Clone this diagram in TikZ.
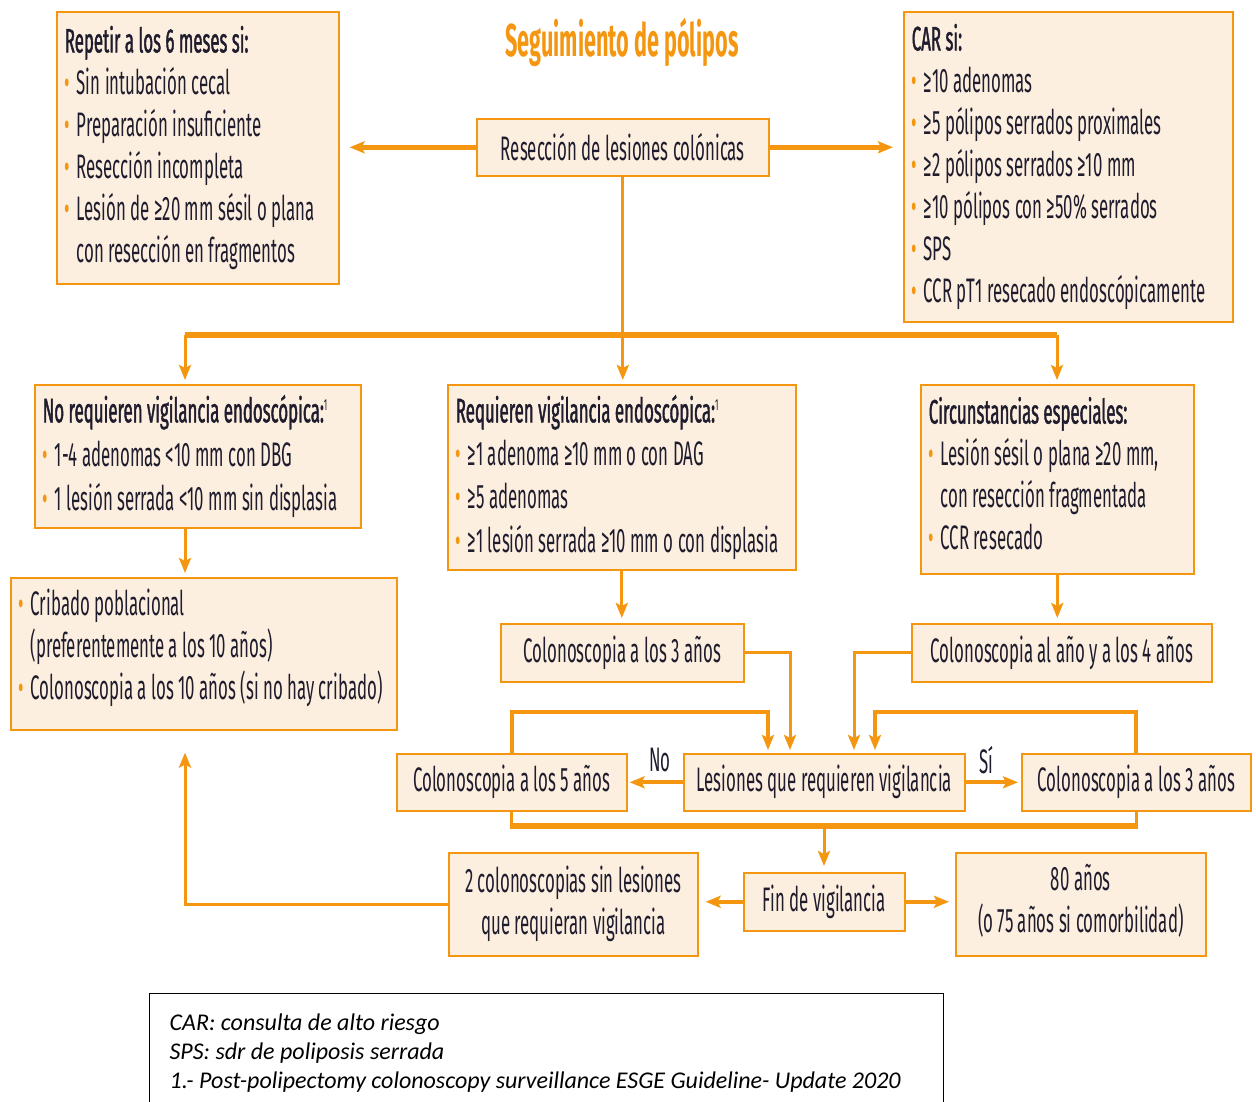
\documentclass[tikz,border=0pt]{standalone}
\usepackage{fontspec}
\setmainfont{Fira Sans}[FakeStretch=0.495]
\newfontfamily\headfont{Fira Sans}[FakeStretch=0.495,FakeBold=1.2]
\newfontfamily\titlefont{Fira Sans Bold}[FakeStretch=0.47]
\newfontfamily\notefont{Carlito}
\usetikzlibrary{arrows.meta}

\definecolor{ob}{RGB}{244,150,16}
\definecolor{bf}{RGB}{253,239,223}
\definecolor{ink}{RGB}{30,28,45}

% bullet and matching hanging indent for list lines
\newcommand\bl{\makebox[12pt][l]{\textcolor{ob}{•}}}
\newcommand\ind{\hspace*{12pt}}
\newcommand\hd[1]{{\headfont #1}}
\newcommand\fn{\raisebox{12pt}{\fontsize{16}{16}\selectfont 1}}
% extra depth below the last line, lifts a text block inside its box
\newcommand\lift[1]{\rule[-#1]{0pt}{0pt}}

\tikzset{
  box/.style={draw=ob, fill=bf, line width=1.6pt, anchor=north west,
    inner xsep=8pt, inner ysep=0pt, align=flush left, text=ink,
    font=\fontsize{34}{42}\selectfont},
  cbox/.style={box, align=flush center},
  conn/.style={draw=ob, line width=3pt},
  arr/.style={conn, -{Stealth[length=15pt,width=12pt,inset=3pt]}},
  bar/.style={draw=ob, line width=6pt},
  lbl/.style={text=ink, font=\fontsize{34}{42}\selectfont, inner sep=0pt}
}

\begin{document}
\hyphenpenalty=10000
\exhyphenpenalty=10000
\begin{tikzpicture}[x=1pt,y=-1pt]
\useasboundingbox (0,0) rectangle (1256,1102);

% title
\node[text=ob, font=\titlefont\fontsize{46}{50}\selectfont, inner sep=0pt] (title) at (622,42) {Seguimiento de pólipos};

% top row
\node[box, text width=266pt, minimum height=272pt] (rep) at (56,11)
  {\hd{Repetir a los 6 meses si:}\\
   \bl Sin intubación cecal\\
   \bl Preparación insuficiente\\
   \bl Resección incompleta\\
   \bl Lesión de ≥20 mm sésil o plana\\
   \ind con resección en fragmentos};

\node[cbox, text width=276pt, minimum height=57pt] (res) at (476,118)
  {Resección de lesiones colónicas};

\node[box, text width=313pt, minimum height=310pt] (car) at (903,11)
  {\hd{CAR si:}\\
   \bl ≥10 adenomas\\
   \bl ≥5 pólipos serrados proximales\\
   \bl ≥2 pólipos serrados ≥10 mm\\
   \bl ≥10 pólipos con ≥50\% serrados\\
   \bl SPS\\
   \bl CCR pT1 resecado endoscópicamente};

% second row
\node[box, text width=310pt, minimum height=143pt,
  font=\fontsize{34}{44}\selectfont] (noreq) at (34,384)
  {\hd{No requieren vigilancia endoscópica:}\fn\\
   \bl 1-4 adenomas <10 mm con DBG\\
   \bl 1 lesión serrada <10 mm sin displasia};

\node[box, text width=332pt, minimum height=185pt,
  font=\fontsize{34}{43.3}\selectfont] (req) at (447,384)
  {\hd{Requieren vigilancia endoscópica:}\fn\\
   \bl ≥1 adenoma ≥10 mm o con DAG\\
   \bl ≥5 adenomas\\
   \bl ≥1 lesión serrada ≥10 mm o con displasia};

\node[box, text width=257pt, minimum height=189pt] (circ) at (920,384)
  {\hd{Circunstancias especiales:}\\
   \bl Lesión sésil o plana ≥20 mm,\\
   \ind con resección fragmentada\\
   \bl CCR resecado\lift{12pt}};

% third row
\node[box, text width=370pt, minimum height=152pt] (crib) at (10,577)
  {\bl Cribado poblacional\\
   \ind (preferentemente a los 10 años)\\
   \bl Colonoscopia a los 10 años (si no hay cribado)\lift{19pt}};

\node[cbox, text width=227pt, minimum height=58pt] (c3a) at (500,623)
  {Colonoscopia a los 3 años};

\node[cbox, text width=284pt, minimum height=58pt] (cano) at (911,623)
  {Colonoscopia al año y a los 4 años};

% decision row
\node[cbox, text width=265pt, minimum height=57pt] (les) at (683,753)
  {Lesiones que requieren vigilancia};
\node[cbox, text width=214pt, minimum height=57pt] (c5) at (396,753)
  {Colonoscopia a los 5 años};
\node[cbox, text width=213pt, minimum height=57pt] (c3b) at (1021,753)
  {Colonoscopia a los 3 años};
\node[lbl] (no) at (660,760) {No};
\node[lbl] (si) at (986,760) {Sí};

% bottom row
\node[cbox, text width=145pt, minimum height=58pt] (fin) at (743,872)
  {Fin de vigilancia};
\node[cbox, text width=233pt, minimum height=103pt] (dos) at (448,852)
  {2 colonoscopias sin lesiones\\que requieran vigilancia};
\node[cbox, text width=234pt, minimum height=103pt] (ochenta) at (955,852)
  {80 años\\(o 75 años si comorbilidad)\lift{11pt}};

% notes
\node[draw=black, line width=1.2pt, anchor=north west, text width=754pt,
  inner xsep=20pt, inner ysep=0pt, minimum height=118pt, align=flush left,
  font=\notefont\itshape\fontsize{24}{29}\selectfont] (note) at (149,993)
  {CAR: consulta de alto riesgo\\
   SPS: sdr de poliposis serrada\\
   1.- Post-polipectomy colonoscopy surveillance ESGE Guideline- Update 2020};

% connectors: top
\draw[arr, line width=5pt, shorten >=10pt] (res.west) -- (res.west -| rep.east);
\draw[arr, line width=5pt, shorten >=10pt] (res.east) -- (res.east -| car.west);
\coordinate (bl) at (185,335);
\coordinate (br) at (1057,335);
\draw[bar] (bl) -- (br);
\draw[arr, shorten >=4pt] (res.south) -- (res.south |- req.north);
\draw[arr, shorten >=4pt] (bl) -- (bl |- noreq.north);
\draw[arr, shorten >=4pt] (br) -- (br |- circ.north);

% connectors: second to third row
\draw[arr, shorten >=4pt] (bl |- noreq.south) -- (bl |- crib.north);
\draw[arr, shorten >=5pt] (req.south) -- (req.south |- c3a.north);
\draw[arr, shorten >=5pt] (circ.south) -- (circ.south |- cano.north);

% into the decision box
\draw[arr, shorten >=3pt] (c3a.east) -| ([xshift=107pt]les.north west);
\draw[arr, shorten >=3pt] (cano.west) -| ([xshift=171pt]les.north west);
\draw[arr, line width=4pt, shorten >=3pt] (c5.north) -- ++(0,-41) -| ([xshift=85pt]les.north west);
\draw[arr, line width=4pt, shorten >=3pt] (c3b.north) -- ++(0,-41) -| ([xshift=192pt]les.north west);
\draw[arr, line width=4pt, shorten >=2pt] (les.west) -- (les.west -| c5.east);
\draw[arr, line width=4pt, shorten >=3pt] (les.east) -- (les.east -| c3b.west);

% collecting bar and end of surveillance
\coordinate (bb) at (824,826);
\draw[conn] (c5.south) -- (c5.south |- bb);
\draw[conn] (c3b.south) -- (c3b.south |- bb);
\draw[bar] ([xshift=-1.5pt]c5.south |- bb) -- ([xshift=1.5pt]c3b.south |- bb);
\draw[arr, shorten >=6pt] (bb) -- (bb |- fin.north);
\draw[arr, line width=4pt, shorten >=7pt] (fin.west) -- (fin.west -| dos.east);
\draw[arr, line width=4pt, shorten >=6pt] (fin.east) -- (fin.east -| ochenta.west);
\draw[arr, shorten >=22pt] (dos.west) -- (bl |- dos.west) -- (bl |- crib.south);
\end{tikzpicture}
\end{document}
